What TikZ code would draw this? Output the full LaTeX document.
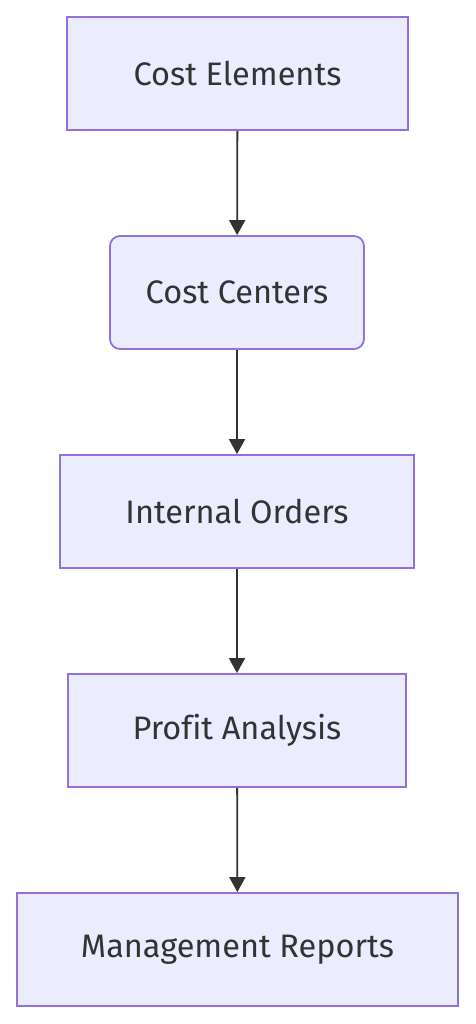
\documentclass[tikz,border=0pt]{standalone}
\usepackage{fontspec}
\setmainfont[Ligatures=NoCommon]{Fira Sans}
\usetikzlibrary{arrows.meta}
\definecolor{boxfill}{HTML}{ECECFF}
\definecolor{boxline}{HTML}{9370DB}
\definecolor{txt}{HTML}{333333}
\tikzset{
  proc/.style={draw=boxline, fill=boxfill, line width=1.8pt, minimum height=113pt,
    inner sep=0pt, text=txt, font=\fontsize{32.5}{38}\selectfont},
  flow/.style={draw=txt, line width=1.8pt, -{Triangle[width=16pt,length=15pt]}}
}
\begin{document}
\begin{tikzpicture}[x=1pt,y=1pt]
\useasboundingbox (0,0) rectangle (475,1024);
\node[proc, minimum width=341pt] (a) at (237.5,950.5) {Cost Elements};
\node[proc, minimum width=254pt, rounded corners=10pt] (b) at (237,731.5) {Cost Centers};
\node[proc, minimum width=354pt] (c) at (237,512.5) {Internal Orders};
\node[proc, minimum width=338pt] (d) at (237,293.5) {Profit Analysis};
\node[proc, minimum width=441pt] (e) at (237.5,74.5) {Management Reports};
\draw[flow] (a) -- (b);
\draw[flow] (b) -- (c);
\draw[flow] (c) -- (d);
\draw[flow] (d) -- (e);
\end{tikzpicture}
\end{document}
